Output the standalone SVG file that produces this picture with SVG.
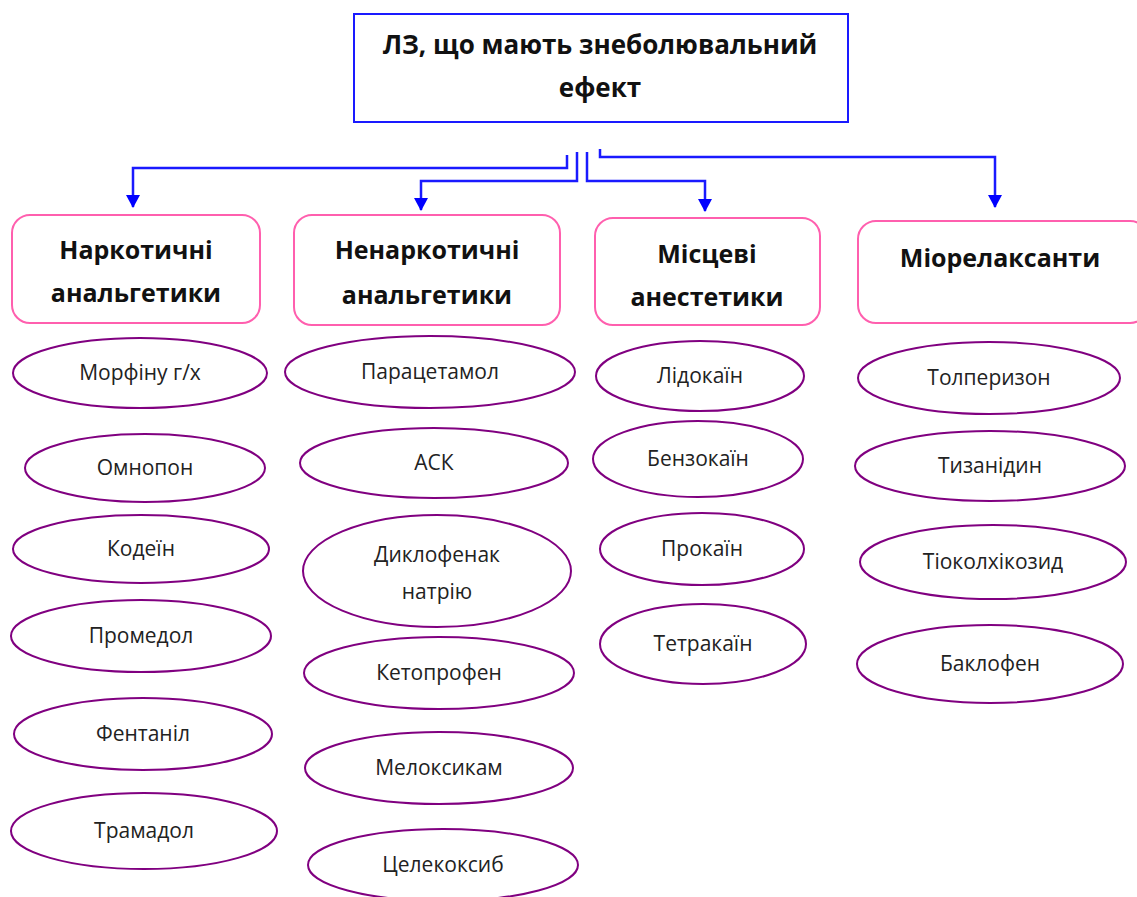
<svg xmlns="http://www.w3.org/2000/svg" width="1137" height="897" viewBox="0 0 1137 897">
<style>
.title{font-family:"Open Sans","Noto Sans","DejaVu Sans",sans-serif;font-weight:bold;font-size:26px;fill:#111;text-anchor:middle}
.cat{font-family:"Open Sans","Noto Sans","DejaVu Sans",sans-serif;font-weight:bold;font-size:25px;fill:#111;text-anchor:middle}
.item{font-family:"Open Sans","Noto Sans","DejaVu Sans",sans-serif;font-size:21px;fill:#222;text-anchor:middle}
.tbox{fill:#fff;stroke:#1a1aff;stroke-width:2}
.cbox{fill:#fff;stroke:#ff5fae;stroke-width:2}
.ell{fill:#fff;stroke:#800080;stroke-width:2}
.conn{fill:none;stroke:#1a1aff;stroke-width:2.5}
</style>
<defs>
<marker id="tri" markerUnits="userSpaceOnUse" markerWidth="14" markerHeight="14" viewBox="0 0 14 14" refX="12" refY="7" orient="auto">
<path d="M0,0 L13,7 L0,14 Z" fill="#0000ff"/>
</marker>
</defs>
<rect width="1137" height="897" fill="#fff"/>

<g id="connectors">
<path class="conn" d="M567,155 V168 H133 V207" marker-end="url(#tri)"/>
<path class="conn" d="M577,152 V181 H421 V210" marker-end="url(#tri)"/>
<path class="conn" d="M587,152 V181 H705 V211" marker-end="url(#tri)"/>
<path class="conn" d="M600,149 V157 H995 V207" marker-end="url(#tri)"/>
</g>

<g id="root">
<rect class="tbox" x="354" y="14" width="494" height="108"/>
<text class="title" x="600" y="54">ЛЗ, що мають знеболювальний</text>
<text class="title" x="600" y="97">ефект</text>
</g>

<g id="cat-narcotic">
<rect class="cbox" x="12" y="215" width="248" height="108" rx="18"/>
<text class="cat" x="136" y="259">Наркотичні</text>
<text class="cat" x="136" y="302">анальгетики</text>
</g>
<g id="cat-nonnarcotic">
<rect class="cbox" x="294" y="215" width="266" height="110" rx="18"/>
<text class="cat" x="427" y="259">Ненаркотичні</text>
<text class="cat" x="427" y="304">анальгетики</text>
</g>
<g id="cat-local">
<rect class="cbox" x="595" y="218" width="225" height="107" rx="18"/>
<text class="cat" x="707" y="263">Місцеві</text>
<text class="cat" x="707" y="306">анестетики</text>
</g>
<g id="cat-muscle">
<rect class="cbox" x="858" y="221" width="290" height="102" rx="18"/>
<text class="cat" x="1000" y="267">Міорелаксанти</text>
</g>

<g id="n-morphine"><ellipse class="ell" cx="140" cy="373" rx="127" ry="35"/><text class="item" x="140" y="380">Морфіну г/х</text></g>
<g id="n-omnopon"><ellipse class="ell" cx="145" cy="468" rx="120" ry="34"/><text class="item" x="145" y="475">Омнопон</text></g>
<g id="n-codeine"><ellipse class="ell" cx="141" cy="549" rx="128" ry="34"/><text class="item" x="141" y="556">Кодеїн</text></g>
<g id="n-promedol"><ellipse class="ell" cx="141" cy="636" rx="130" ry="36"/><text class="item" x="141" y="643">Промедол</text></g>
<g id="n-fentanyl"><ellipse class="ell" cx="143" cy="734" rx="129" ry="36"/><text class="item" x="143" y="741">Фентаніл</text></g>
<g id="n-tramadol"><ellipse class="ell" cx="144" cy="831" rx="133" ry="38"/><text class="item" x="144" y="838">Трамадол</text></g>

<g id="n-paracetamol"><ellipse class="ell" cx="430" cy="372" rx="145" ry="36"/><text class="item" x="430" y="379">Парацетамол</text></g>
<g id="n-ask"><ellipse class="ell" cx="434" cy="463" rx="134" ry="35"/><text class="item" x="434" y="470">АСК</text></g>
<g id="n-diclofenac"><ellipse class="ell" cx="437" cy="571" rx="134" ry="56"/><text class="item" x="437" y="562">Диклофенак</text><text class="item" x="437" y="599">натрію</text></g>
<g id="n-ketoprofen"><ellipse class="ell" cx="439" cy="673" rx="135" ry="36"/><text class="item" x="439" y="680">Кетопрофен</text></g>
<g id="n-meloxicam"><ellipse class="ell" cx="439" cy="768" rx="134" ry="36"/><text class="item" x="439" y="775">Мелоксикам</text></g>
<g id="n-celecoxib"><ellipse class="ell" cx="443" cy="865" rx="135" ry="36"/><text class="item" x="443" y="872">Целекоксиб</text></g>

<g id="n-lidocaine"><ellipse class="ell" cx="700" cy="376" rx="104" ry="35"/><text class="item" x="700" y="383">Лідокаїн</text></g>
<g id="n-benzocaine"><ellipse class="ell" cx="698" cy="459" rx="105" ry="38"/><text class="item" x="698" y="466">Бензокаїн</text></g>
<g id="n-procaine"><ellipse class="ell" cx="702" cy="549" rx="102" ry="36"/><text class="item" x="702" y="556">Прокаїн</text></g>
<g id="n-tetracaine"><ellipse class="ell" cx="703" cy="644" rx="103" ry="40"/><text class="item" x="703" y="651">Тетракаїн</text></g>

<g id="n-tolperisone"><ellipse class="ell" cx="989" cy="378" rx="131" ry="36"/><text class="item" x="989" y="385">Толперизон</text></g>
<g id="n-tizanidine"><ellipse class="ell" cx="990" cy="466" rx="135" ry="35"/><text class="item" x="990" y="473">Тизанідин</text></g>
<g id="n-thiocolchicoside"><ellipse class="ell" cx="993" cy="562" rx="133" ry="37"/><text class="item" x="993" y="569">Тіоколхікозид</text></g>
<g id="n-baclofen"><ellipse class="ell" cx="990" cy="664" rx="133" ry="39"/><text class="item" x="990" y="671">Баклофен</text></g>
</svg>
